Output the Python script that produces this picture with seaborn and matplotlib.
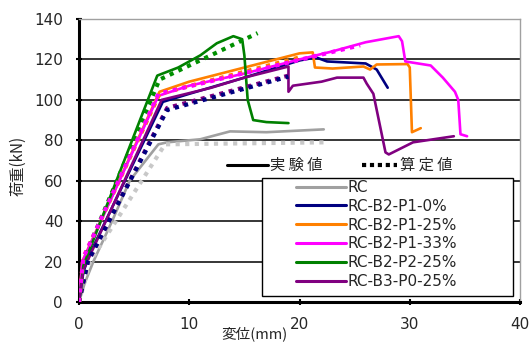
import matplotlib
matplotlib.use("Agg")
import matplotlib.pyplot as plt
from matplotlib.lines import Line2D
from matplotlib.patches import Rectangle
import pandas as pd
import seaborn as sns

# ---- data ----
names = ["RC", "RC-B2-P1-0%", "RC-B2-P1-25%", "RC-B2-P1-33%", "RC-B2-P2-25%", "RC-B3-P0-25%"]
colors = ["#A0A0A0", "#000080", "#FF8000", "#FF00FF", "#008000", "#800080"]
calc_colors = ["#C8C8C8", "#000080", "#FF8000", "#FF00FF", "#009000", "#800080"]

# experimental (solid)
rc_x = [0, 0.5, 1.3, 3.0, 4.6, 7.2, 8.0, 11.0, 13.7, 17.0, 22.2]
rc_y = [0, 9, 20, 40, 60, 78, 79, 80.5, 84.4, 84.0, 85.4]
p1_0_x = [0, 0.4, 1.0, 7.6, 10.0, 15.0, 20.0, 21.5, 22.5, 26.0, 27.0, 28.0]
p1_0_y = [0, 15, 24, 99, 103, 111, 119.5, 121, 119, 118, 115, 106]
p1_25_x = [0, 0.3, 7.3, 10.0, 15.0, 20.0, 21.2, 21.4, 23.0, 25.8, 26.4, 27.0, 29.8, 30.0, 30.2, 31.0]
p1_25_y = [0, 20, 104, 109, 116, 123, 123.5, 116, 115.5, 116.5, 115, 117.5, 117.7, 116, 84, 86]
p1_33_x = [0, 0.3, 7.2, 10.0, 15.0, 20.0, 23.0, 26.0, 29.0, 29.3, 29.6, 31.9, 33.0, 34.1, 34.4, 34.6, 35.2]
p1_33_y = [0, 20, 102, 107, 113, 120, 124, 128.5, 131.5, 129, 119, 117, 111, 104, 100, 83, 82]
p2_25_x = [0, 0.4, 7.1, 9.0, 11.0, 12.5, 14.0, 14.8, 15.0, 15.3, 15.8, 17.0, 19.0]
p2_25_y = [0, 18, 112, 116, 122, 128, 131.5, 130, 122, 100, 90, 89, 88.5]
b3_x = [0, 0.4, 7.5, 12.0, 15.0, 19.0, 19.0, 19.4, 22.0, 23.4, 25.8, 26.1, 26.7, 27.8, 28.1, 30.3, 34.0]
b3_y = [0, 16, 100, 106, 111, 116.5, 104, 107, 109, 111, 111, 108, 103, 74, 73, 79, 82]

# calculated (dotted)
rc_calc_x = [0, 1.0, 7.8, 22.5]
rc_calc_y = [0, 20, 78, 79]
p1_0_calc_x = [0, 0.8, 8.0, 19.0]
p1_0_calc_y = [0, 20, 95, 111.5]
p1_25_calc_x = [0, 0.4, 7.3, 20.0]
p1_25_calc_y = [0, 22, 103, 121]
p1_33_calc_x = [0, 0.4, 7.2, 25.5]
p1_33_calc_y = [0, 22, 103, 127]
p2_25_calc_x = [0, 0.5, 7.3, 16.2]
p2_25_calc_y = [0, 22, 110, 133]
b3_calc_x = [0, 0.8, 8.0, 19.0]
b3_calc_y = [0, 20, 96, 112]

exp_x = [rc_x, p1_0_x, p1_25_x, p1_33_x, p2_25_x, b3_x]
exp_y = [rc_y, p1_0_y, p1_25_y, p1_33_y, p2_25_y, b3_y]
calc_x = [rc_calc_x, p1_0_calc_x, p1_25_calc_x, p1_33_calc_x, p2_25_calc_x, b3_calc_x]
calc_y = [rc_calc_y, p1_0_calc_y, p1_25_calc_y, p1_33_calc_y, p2_25_calc_y, b3_calc_y]

x_ticks = [0, 10, 20, 30, 40]
y_ticks = [0, 20, 40, 60, 80, 100, 120, 140]

# ---- style ----
sns.set_style("white")
plt.rcParams["font.family"] = ["Noto Sans CJK JP", "DejaVu Sans"]

W, H = 531, 343
fig = plt.figure(figsize=(W / 100, H / 100), dpi=100)
ax = fig.add_axes([79 / W, 1 - 302 / H, (520 - 79) / W, (302 - 19) / H])

# solid = experiment
for i in range(len(names)):
    d = pd.DataFrame({"x": exp_x[i], "y": exp_y[i]})
    sns.lineplot(data=d, x="x", y="y", sort=False, estimator=None, ax=ax,
                 color=colors[i], lw=1.9, zorder=3)

# dotted = calculation
calc_order = [0, 5, 1, 2, 4, 3]
for i in calc_order:
    d = pd.DataFrame({"x": calc_x[i], "y": calc_y[i]})
    sns.lineplot(data=d, x="x", y="y", sort=False, estimator=None, ax=ax,
                 color=calc_colors[i], lw=3.0, linestyle=(0, (1, 1.3)), zorder=4)

ax.set_xlim(0, 40)
ax.set_ylim(0, 140)
ax.set_xticks(x_ticks)
ax.set_yticks(y_ticks)
ax.set_xlabel("")
ax.set_ylabel("")
ax.set_axisbelow(True)
ax.yaxis.grid(True, color="black", lw=1.1)
ax.xaxis.grid(False)
for s in ["left", "bottom"]:
    ax.spines[s].set_color("black")
    ax.spines[s].set_linewidth(2.2)
for s in ["top", "right"]:
    ax.spines[s].set_color("#A0A0A0")
    ax.spines[s].set_linewidth(1.0)
ax.tick_params(direction="inout", length=5, width=1.5, color="black", labelsize=11,
               left=True, bottom=True)
ax.tick_params(axis="y", pad=9)
ax.tick_params(axis="x", pad=8)
for lab in ax.get_xticklabels() + ax.get_yticklabels():
    lab.set_family("DejaVu Sans")

# axis titles
fig.text(18 / W, 1 - 166 / H, "荷重(kN)", rotation=90, ha="center", va="center", fontsize=11)
fig.text(254 / W, 1 - 334 / H, "変位(mm)", ha="center", va="center", fontsize=10.5)

# legend box
fig.add_artist(Rectangle((262 / W, 1 - 296 / H), (513 - 262) / W, (296 - 178) / H,
                         transform=fig.transFigure, facecolor="white", edgecolor="black",
                         lw=1.0, zorder=3))
handles = [Line2D([], [], color=c, lw=2.2) for c in colors]
fig.legend(handles, names, loc="upper left", bbox_to_anchor=(296 / W, 1 - 180 / H),
           frameon=False, prop={"family": "DejaVu Sans", "size": 11},
           handlelength=3.3, handletextpad=0.1,
           borderpad=0, borderaxespad=0, labelspacing=0.25)

# solid / dotted key above the box
ky = 1 - 165 / H
fig.add_artist(Line2D([227 / W, 268 / W], [ky, ky], color="black", lw=2.2, zorder=4))
fig.text(270 / W, ky, "実 験 値", ha="left", va="center", fontsize=11, zorder=4)
fig.add_artist(Line2D([362 / W, 397 / W], [ky, ky], color="black", lw=3.0,
                      linestyle=(0, (1, 0.9)), zorder=4))
fig.text(400 / W, ky, "算 定 値", ha="left", va="center", fontsize=11, zorder=4)

fig.savefig("out.png", dpi=100)
